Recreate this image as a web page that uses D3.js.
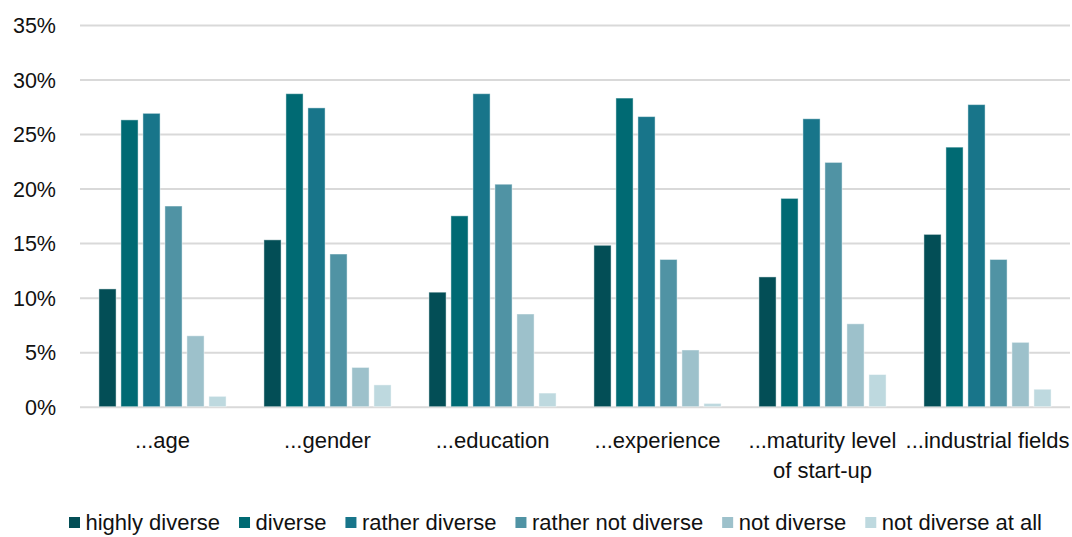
<!DOCTYPE html>
<html>
<head>
<meta charset="utf-8">
<script src="https://cdn.jsdelivr.net/npm/d3@7/dist/d3.min.js"></script>
<style>
  html, body { margin: 0; padding: 0; background: #ffffff; }
  svg { display: block; font-family: "Liberation Sans", Arial, sans-serif; }
</style>
</head>
<body>
<svg id="chart" width="1072" height="537"></svg>
<script>
// Dimensions of diversity
const categories = [
  ["...age"],
  ["...gender"],
  ["...education"],
  ["...experience"],
  ["...maturity level", "of start-up"],
  ["...industrial fields"]
];
const seriesNames = [
  "highly diverse", "diverse", "rather diverse",
  "rather not diverse", "not diverse", "not diverse at all"
];
// Share of responses (%) per category, one array per series
const highlyDiverse   = [10.8, 15.3, 10.5, 14.8, 11.9, 15.8];
const diverse         = [26.3, 28.7, 17.5, 28.3, 19.1, 23.8];
const ratherDiverse   = [26.9, 27.4, 28.7, 26.6, 26.4, 27.7];
const ratherNot       = [18.4, 14.0, 20.4, 13.5, 22.4, 13.5];
const notDiverse      = [6.5, 3.6, 8.5, 5.2, 7.6, 5.9];
const notDiverseAtAll = [0.95, 2.0, 1.25, 0.3, 2.95, 1.6];
const yTicks = [0, 5, 10, 15, 20, 25, 30, 35];

const series = [highlyDiverse, diverse, ratherDiverse, ratherNot, notDiverse, notDiverseAtAll];
const colors = ["#034E56", "#006A73", "#18758A", "#5093A4", "#9DC1CB", "#BED9DF"];

const svg = d3.select("#chart");
const plot = { left: 80, right: 1070, top: 25, bottom: 406.7 };

const x0 = d3.scaleBand()
  .domain(d3.range(categories.length))
  .range([plot.left, plot.right])
  .paddingInner(0).paddingOuter(0);

const groupSpan = 132;
const x1 = d3.scaleBand()
  .domain(d3.range(series.length))
  .range([(x0.bandwidth() - groupSpan) / 2, (x0.bandwidth() + groupSpan) / 2])
  .paddingInner(0.22).paddingOuter(0.11);

const y = d3.scaleLinear().domain([0, 35]).range([plot.bottom, plot.top]);

// Horizontal gridlines
const yAxis = d3.axisLeft(y)
  .tickValues(yTicks)
  .tickFormat(d => d + "%")
  .tickSize(-(plot.right - plot.left))
  .tickPadding(24);

const gy = svg.append("g")
  .attr("transform", `translate(${plot.left},0)`)
  .call(yAxis);
gy.select(".domain").remove();
gy.selectAll(".tick line").attr("stroke", "#D9D9D9").attr("stroke-width", 2);
gy.selectAll(".tick text")
  .attr("fill", "#111111")
  .style("font-size", "21.5px")
  .attr("dy", "0.36em");

// Bars
const groups = svg.append("g").selectAll("g")
  .data(categories)
  .join("g")
  .attr("transform", (d, i) => `translate(${x0(i)},0)`);

groups.selectAll("rect")
  .data((d, i) => series.map((s, j) => ({ j, v: s[i] })))
  .join("rect")
  .attr("x", d => x1(d.j))
  .attr("width", x1.bandwidth())
  .attr("y", d => y(d.v))
  .attr("height", d => y(0) - y(d.v))
  .attr("fill", d => colors[d.j])
  .attr("stroke", "rgba(255,255,255,0.45)")
  .attr("stroke-width", 1);

// Category labels
const labels = svg.append("g").selectAll("text")
  .data(categories)
  .join("text")
  .attr("x", (d, i) => x0(i) + x0.bandwidth() / 2)
  .attr("y", 448)
  .attr("text-anchor", "middle")
  .attr("fill", "#111111")
  .style("font-size", "22px");
labels.selectAll("tspan")
  .data(d => d)
  .join("tspan")
  .attr("x", function () { return d3.select(this.parentNode).attr("x"); })
  .attr("dy", (d, k) => k === 0 ? 0 : 30)
  .text(d => d);

// Legend
const legend = svg.append("g");
let cursor = 69;
seriesNames.forEach((name, j) => {
  legend.append("rect")
    .attr("x", cursor).attr("y", 517)
    .attr("width", 11).attr("height", 11)
    .attr("fill", colors[j]);
  const t = legend.append("text")
    .attr("x", cursor + 16.5).attr("y", 530)
    .attr("fill", "#111111")
    .style("font-size", "22px")
    .text(name);
  cursor += 16.5 + t.node().getComputedTextLength() + 19;
});
</script>
</body>
</html>
